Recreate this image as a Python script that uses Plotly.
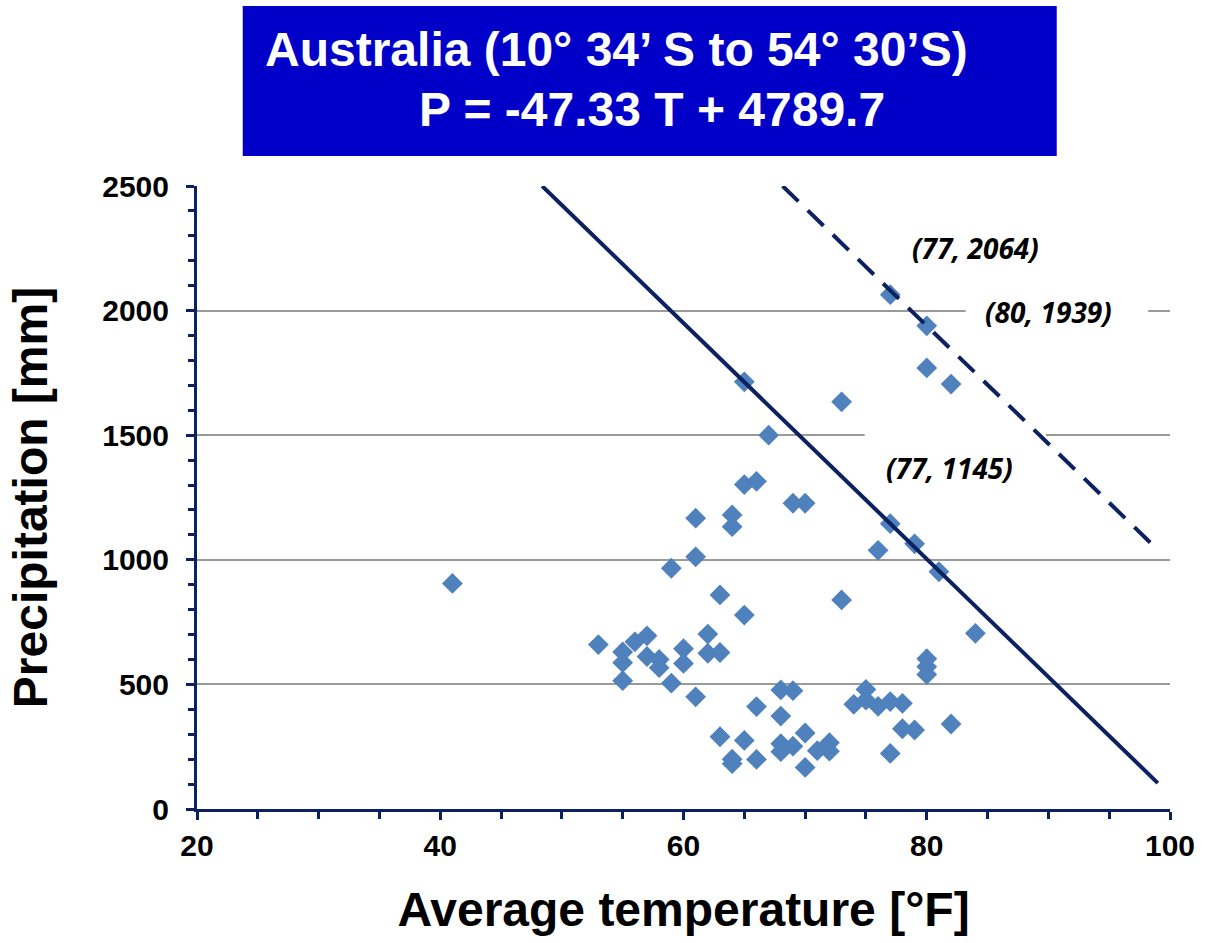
import plotly.graph_objects as go

# ---- data ----
temp_f = [41, 53, 55, 55, 55, 56, 57, 57, 58, 58, 59, 59, 60, 60,
          61, 61, 61, 62, 62, 63, 63, 63, 64, 64, 64, 64, 65, 65, 65, 65,
          66, 66, 66, 67, 68, 68, 68, 68, 69, 69, 69, 70, 70, 70, 71, 72, 72,
          73, 73, 74, 75, 75, 76, 76, 77, 77, 77, 77, 78, 78, 79, 79,
          80, 80, 80, 80, 80, 81, 82, 82, 84]
precip_mm = [905, 660, 630, 587, 515, 671, 695, 612, 600, 567, 966, 505, 643, 584,
             1167, 1012, 450, 702, 625, 859, 628, 290, 1180, 1133, 200, 182, 1714, 1302, 778, 275,
             1315, 411, 199, 1500, 478, 373, 262, 230, 1227, 475, 252, 1227, 305, 167, 234, 266, 232,
             1634, 839, 420, 480, 437, 1038, 412, 2064, 1145, 431, 223, 424, 322, 1064, 317,
             1939, 1770, 603, 571, 540, 952, 1705, 341, 705]

slope = -47.33
intercept = 4789.7          # fitted line (title equation)
upper_intercept = 5725.4    # parallel upper envelope line
fit_T = [48.38, 99.0]
upper_T = [68.15, 99.0]

label_texts = ["(77, 2064)", "(80, 1939)", "(77, 1145)"]
label_x = [84.0, 90.0, 81.9]
label_y = [2251, 1994, 1368]

x_range = [20, 100]
y_range = [0, 2500]

NAVY = "#0B2161"
FONT = "Liberation Sans, Arial, sans-serif"

fig = go.Figure()

fig.add_trace(go.Scatter(
    x=temp_f, y=precip_mm, mode="markers",
    marker=dict(symbol="diamond", size=16, color="#4F81BD", line=dict(width=0)),
    hoverinfo="skip", showlegend=False, cliponaxis=False))

fig.add_trace(go.Scatter(
    x=fit_T, y=[slope * t + intercept for t in fit_T], mode="lines",
    line=dict(color=NAVY, width=4), hoverinfo="skip", showlegend=False))

fig.add_trace(go.Scatter(
    x=upper_T, y=[slope * t + upper_intercept for t in upper_T], mode="lines",
    line=dict(color=NAVY, width=4, dash="22px,13px"), hoverinfo="skip", showlegend=False))

# white boxes behind data labels (hide gridlines)
for (x0, x1, y0, y1) in [(83.2, 98.2, 1900, 2080), (74.9, 89.8, 1300, 1530)]:
    fig.add_shape(type="rect", xref="x", yref="y", x0=x0, x1=x1, y0=y0, y1=y1,
                  fillcolor="white", line=dict(width=0), layer="between")

for t, xx, yy in zip(label_texts, label_x, label_y):
    fig.add_annotation(x=xx, y=yy, xref="x", yref="y", text=t, showarrow=False,
                       font=dict(family="Open Sans, sans-serif", size=28, color="black",
                                 weight="bold", style="italic"))

# title box
fig.add_shape(type="rect", xref="paper", yref="paper", x0=0.047, x1=0.8836,
              y0=1.0482, y1=1.2889, fillcolor="#0000C8", line=dict(width=0), layer="above")
fig.add_annotation(xref="paper", yref="paper", x=0.0675, y=1.2183, xanchor="left",
                   yanchor="middle", showarrow=False,
                   text="Australia (10° 34’ S to 54° 30’S)",
                   font=dict(family=FONT, size=48, color="white", weight="bold"))
fig.add_annotation(xref="paper", yref="paper", x=0.468, y=1.122, xanchor="center",
                   yanchor="middle", showarrow=False,
                   text="P = -47.33 T + 4789.7",
                   font=dict(family=FONT, size=48, color="white", weight="bold"))

fig.update_xaxes(
    range=x_range, dtick=20, tick0=20, showgrid=False, zeroline=False,
    showline=True, linecolor=NAVY, linewidth=3,
    ticks="outside", ticklen=8, tickwidth=3, tickcolor=NAVY,
    minor=dict(dtick=5, ticks="outside", ticklen=7, tickwidth=3, tickcolor=NAVY, showgrid=False),
    tickfont=dict(family=FONT, size=30, color="black", weight="bold"),
    ticklabelstandoff=0,
    title=dict(text="Average temperature [°F]", standoff=32,
               font=dict(family=FONT, size=48, color="black", weight="bold")))

fig.update_yaxes(
    range=y_range, dtick=500, tick0=0, showgrid=True, gridcolor="#9A9A9A", gridwidth=1.5,
    zeroline=False, showline=True, linecolor=NAVY, linewidth=3,
    ticks="outside", ticklen=8, tickwidth=3, tickcolor=NAVY,
    minor=dict(dtick=100, ticks="outside", ticklen=6, tickwidth=3, tickcolor=NAVY, showgrid=False),
    tickfont=dict(family=FONT, size=30, color="black", weight="bold"),
    ticklabelstandoff=11,
    title=dict(text="Precipitation [mm]", standoff=40,
               font=dict(family=FONT, size=48, color="black", weight="bold")))

fig.update_layout(
    width=1207, height=943,
    margin=dict(l=197, r=31, t=186, b=134),
    paper_bgcolor="white", plot_bgcolor="white",
    showlegend=False)

fig.write_html("out.html")
